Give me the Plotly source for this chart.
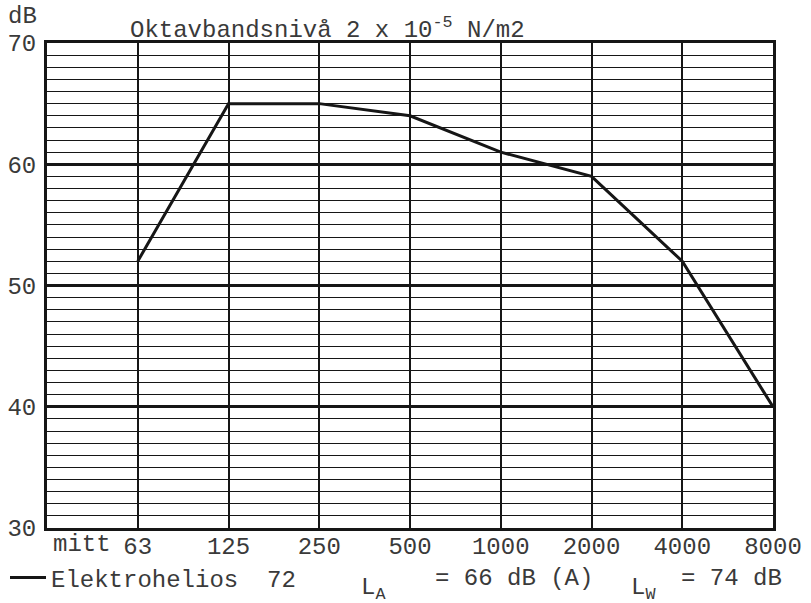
import plotly.graph_objects as go

# ---- data ----
bands = ["63", "125", "250", "500", "1000", "2000", "4000", "8000"]
levels = [52, 65, 65, 64, 61, 59, 52, 40]
series_name = "Elektrohelios\u00a0\u00a072"
y_ticks = [30, 40, 50, 60, 70]

INK = "#161616"
TXT = "#3a3a3a"
FONT = "Liberation Mono, Courier New, monospace"
FS = 24

xpos = list(range(len(bands)))

fig = go.Figure()
fig.add_trace(go.Scatter(
    x=xpos, y=levels, mode="lines", name=series_name,
    line=dict(color=INK, width=3), showlegend=True,
))

fig.update_layout(
    width=811, height=603,
    margin=dict(l=47, r=38, t=43, b=75, autoexpand=False),
    paper_bgcolor="white", plot_bgcolor="white",
    font=dict(family=FONT, size=FS, color=TXT),
    showlegend=True,
    legend=dict(
        xref="container", yref="container", x=5 / 811, y=(603 - 578) / 603,
        xanchor="left", yanchor="middle", orientation="h",
        font=dict(family=FONT, size=FS, color=TXT),
        bgcolor="rgba(0,0,0,0)", itemwidth=36,
    ),
    xaxis=dict(
        range=[-1, len(bands) - 1], tickmode="array",
        tickvals=xpos, ticktext=bands,
        showgrid=True, gridcolor=INK, gridwidth=1.6,
        showline=True, linecolor=INK, linewidth=3, mirror=True,
        ticks="", zeroline=False, fixedrange=True, ticklabelstandoff=-6,
        tickfont=dict(family=FONT, size=FS, color=TXT),
    ),
    yaxis=dict(
        range=[30, 70], tickmode="array", tickvals=y_ticks,
        showgrid=True, gridcolor=INK, gridwidth=3,
        minor=dict(dtick=1, showgrid=True, gridcolor=INK, gridwidth=1.4),
        showline=True, linecolor=INK, linewidth=3, mirror=True,
        ticks="", zeroline=False, fixedrange=True, ticklabelstandoff=3,
        tickfont=dict(family=FONT, size=FS, color=TXT),
    ),
)

ann = [
    dict(text="dB", x=6, y=17),
    dict(text="Oktavbandsnivå 2 x 10<sup>-5</sup> N/m2", x=128, y=28),
    dict(text="mitt", x=51, y=544),
    dict(text="L<sub>A</sub>", x=359, y=589),
    dict(text="= 66 dB (A)", x=433, y=578),
    dict(text="L<sub>W</sub>", x=629, y=589),
    dict(text="= 74 dB", x=679, y=578),
]
for a in ann:
    fig.add_annotation(
        text=a["text"], xref="paper", yref="paper",
        x=(a["x"] - 47) / (811 - 47 - 38), y=(603 - 75 - a["y"]) / (603 - 43 - 75),
        xanchor="left", yanchor="middle", showarrow=False,
        font=dict(family=FONT, size=FS, color=TXT),
    )

fig.write_html("out.html", config={"displayModeBar": False},
               post_script="document.body.style.margin='0';")
